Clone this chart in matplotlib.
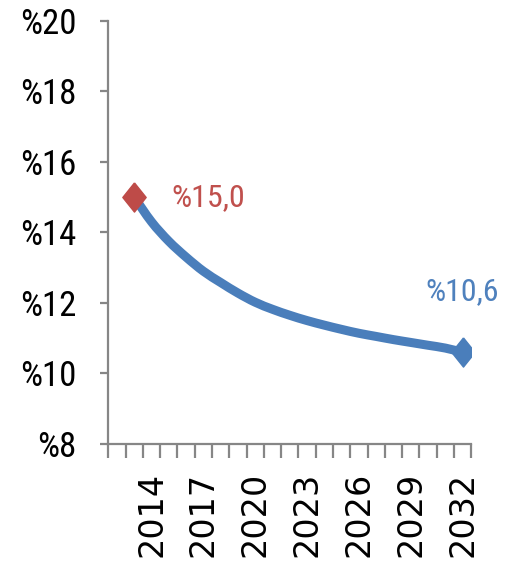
import matplotlib
matplotlib.use("Agg")
import matplotlib.pyplot as plt
from matplotlib.ticker import FixedLocator
from matplotlib.path import Path
from matplotlib.patches import PathPatch
from matplotlib import font_manager as fm
import os

# Data
categories = list(range(2012, 2033))
series_years = list(range(2013, 2033))
series_values = [15.0, 14.3, 13.75, 13.3, 12.9, 12.58, 12.28, 12.02, 11.82, 11.65,
                 11.5, 11.37, 11.25, 11.14, 11.05, 10.96, 10.88, 10.8, 10.72, 10.6]
label_years = [2014, 2017, 2020, 2023, 2026, 2029, 2032]
y_ticks = [8, 10, 12, 14, 16, 18, 20]
start_label = "%15,0"
end_label = "%10,6"

blue = "#4A7EBB"
red = "#BE4B48"
gray = "#868686"


def pick_narrow():
    prefs = ["LiberationSansNarrow-Regular", "LiberationSansNarrow",
             "OpenSans_Condensed-Regular", "OpenSansCondensed-Regular",
             "OpenSans-CondensedRegular", "NotoSans-CondensedRegular",
             "NotoSans-Condensed.", "RobotoCondensed-Regular",
             "Roboto_Condensed-Regular", "DejaVuSansCondensed."]
    files = [f.fname for f in fm.fontManager.ttflist]
    for p in prefs:
        for f in files:
            if p.lower() in f.lower().replace(" ", ""):
                return fm.FontProperties(fname=f)
    return fm.FontProperties(family="DejaVu Sans", stretch="condensed")


def pick_dejavu():
    for f in fm.fontManager.ttflist:
        if os.path.basename(f.fname) == "DejaVuSans.ttf":
            return fm.FontProperties(fname=f.fname)
    return fm.FontProperties(family="DejaVu Sans", stretch="normal")


narrow = pick_narrow()
wide = pick_dejavu()

fig = plt.figure(figsize=(5.21, 5.67), dpi=100)
ax = fig.add_axes([0.208, 0.217, 0.6966, 0.746])

xs = [categories.index(y) for y in series_years]
ys = series_values

# smoothed line (Excel-style Catmull-Rom through the data points)
verts = [(xs[0], ys[0])]
codes = [Path.MOVETO]
n = len(xs)
for i in range(n - 1):
    p0 = (xs[max(i - 1, 0)], ys[max(i - 1, 0)])
    p1 = (xs[i], ys[i])
    p2 = (xs[i + 1], ys[i + 1])
    p3 = (xs[min(i + 2, n - 1)], ys[min(i + 2, n - 1)])
    c1 = (p1[0] + (p2[0] - p0[0]) / 6, p1[1] + (p2[1] - p0[1]) / 6)
    c2 = (p2[0] - (p3[0] - p1[0]) / 6, p2[1] - (p3[1] - p1[1]) / 6)
    verts += [c1, c2, p2]
    codes += [Path.CURVE4] * 3
ax.add_patch(PathPatch(Path(verts, codes), fill=False, edgecolor=blue, lw=6.5,
                       capstyle="round", joinstyle="round", zorder=2))

diamond = [(0, 1), (0.8, 0), (0, -1), (-0.8, 0), (0, 1)]
ax.plot([xs[0]], [ys[0]], marker=diamond, ms=21, color=red,
        mec=red, ls="none", zorder=3)
ax.plot([xs[-1]], [ys[-1]], marker=diamond, ms=21, color=blue,
        mec=blue, ls="none", zorder=3)

ax.annotate(start_label, (xs[0], ys[0]), xytext=(37, 0),
            textcoords="offset pixels", ha="left", va="center",
            fontproperties=narrow, fontsize=23, color="#C0504D")
ax.annotate(end_label, (xs[-1], ys[-1]), xytext=(0, 61),
            textcoords="offset pixels", ha="center", va="center",
            fontproperties=narrow, fontsize=23, color="#4F81BD")

ax.set_xlim(-0.5, len(categories) - 0.5)
ax.set_ylim(8, 20)

for s in ["top", "right"]:
    ax.spines[s].set_visible(False)
for s in ["left", "bottom"]:
    ax.spines[s].set_color(gray)
    ax.spines[s].set_linewidth(1.6)

ax.set_yticks(y_ticks)
ax.set_yticklabels([f"%{v}" for v in y_ticks])
for t in ax.get_yticklabels():
    t.set_fontproperties(narrow)
    t.set_fontsize(25)
ax.tick_params(axis="y", length=6, width=1.6, color=gray, pad=17)

ax.xaxis.set_major_locator(FixedLocator([categories.index(y) for y in label_years]))
ax.set_xticklabels([str(y) for y in label_years], rotation=90)
for t in ax.get_xticklabels():
    t.set_fontproperties(wide)
    t.set_fontsize(24)
ax.tick_params(axis="x", which="major", length=0, pad=20)
ax.xaxis.set_minor_locator(FixedLocator([i - 0.5 for i in range(len(categories) + 1)]))
ax.tick_params(axis="x", which="minor", length=10, width=1.6, color=gray,
               direction="out")

fig.savefig("out.png", dpi=100)
